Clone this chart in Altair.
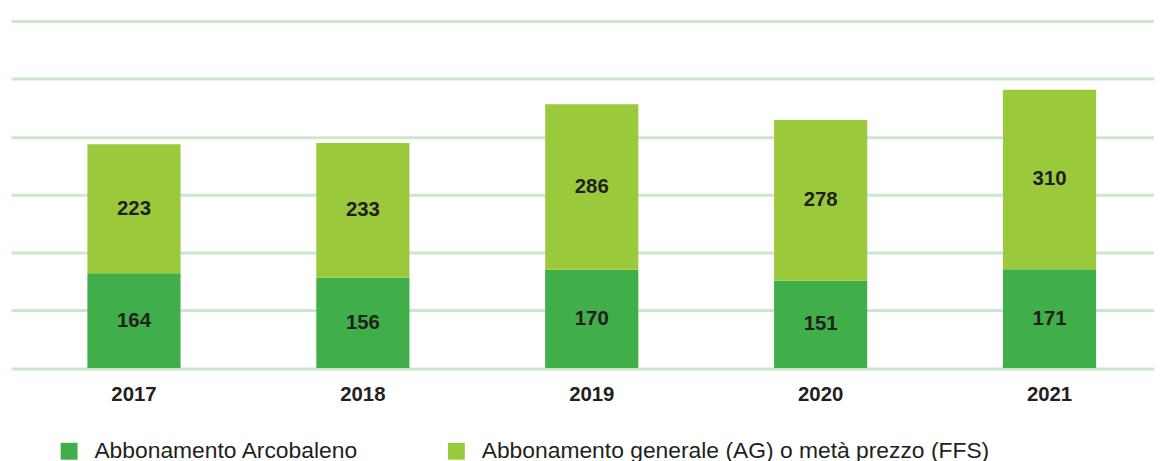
import altair as alt
import pandas as pd

years = ["2017", "2018", "2019", "2020", "2021"]
arcobaleno = [164, 156, 170, 151, 171]
ag_ffs = [223, 233, 286, 278, 310]
series = ["Abbonamento Arcobaleno", "Abbonamento generale (AG) o metà prezzo (FFS)"]
colors = ["#40ae49", "#9aca3c"]
grid_values = [0, 100, 200, 300, 400, 500, 600]

rows = []
for i, yr in enumerate(years):
    rows.append({"year": yr, "series": series[0], "value": arcobaleno[i], "order": 0})
    rows.append({"year": yr, "series": series[1], "value": ag_ffs[i], "order": 1})
df = pd.DataFrame(rows)

TXT = "#231f20"
FONT = "Liberation Sans"

base = alt.Chart(df).transform_stack(
    stack="value", groupby=["year"], as_=["y0", "y1"], sort=[alt.SortField("order")]
).transform_calculate(mid="(datum.y0 + datum.y1) / 2")

xenc = alt.X(
    "year:N",
    sort=years,
    scale=alt.Scale(paddingInner=0.593, paddingOuter=0.2934, align=0.569, round=False),
    axis=alt.Axis(
        title=None, labelAngle=0, labelFontSize=20.5, labelFontWeight="bold",
        labelColor=TXT, labelFont=FONT, labelPadding=17, ticks=False, domain=False, grid=False,
    ),
)

bars = base.mark_bar().encode(
    x=xenc,
    y=alt.Y(
        "y0:Q",
        scale=alt.Scale(domain=[0, 600], nice=False, zero=True),
        axis=alt.Axis(
            values=grid_values, grid=True, gridColor="#cce8cc", gridWidth=3,
            labels=False, ticks=False, domain=False, title=None,
        ),
    ),
    y2="y1:Q",
    color=alt.Color(
        "series:N",
        scale=alt.Scale(domain=series, range=colors),
        legend=alt.Legend(
            title=None, orient="none", legendX=47, legendY=421.5, direction="horizontal",
            symbolType="square", symbolSize=289, symbolStrokeWidth=0, symbolOpacity=1,
            labelFontSize=23, labelFont=FONT, labelColor=TXT, labelLimit=1000,
            labelOffset=14, columnPadding=87, padding=0,
        ),
    ),
)

labels = base.mark_text(
    font=FONT, fontSize=20.5, fontWeight="bold", color=TXT, baseline="middle", align="center"
).encode(
    x=alt.X("year:N", sort=years),
    y="mid:Q",
    text="value:Q",
)

chart = (bars + labels).properties(
    width=1151, height=349.5,
    padding={"left": 3, "top": 11.5, "right": 0, "bottom": 0},
).configure_view(stroke=None)

chart.save("out.html", embed_options={"renderer": "svg", "actions": False})
